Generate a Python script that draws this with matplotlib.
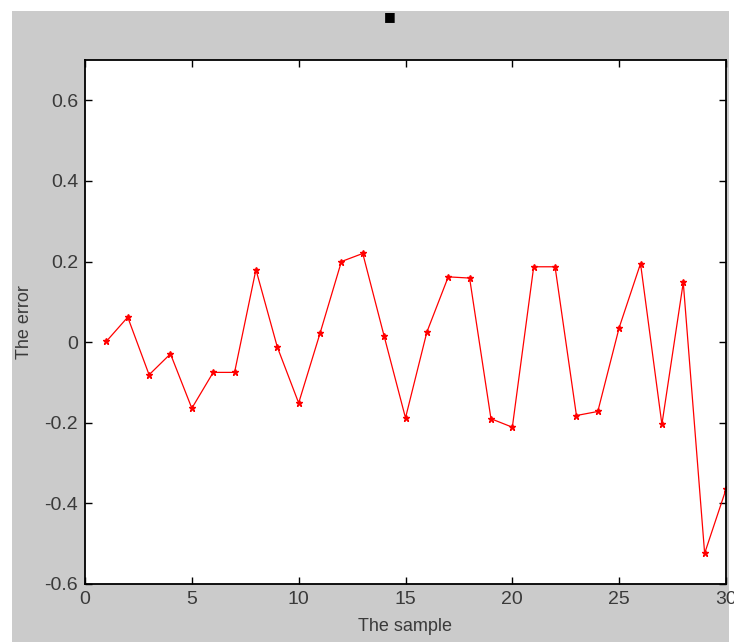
import matplotlib.pyplot as plt
from matplotlib.patches import Rectangle

# sample index and the error
samples = list(range(1, 31))
errors = [0.002, 0.062, -0.081, -0.029, -0.164, -0.075, -0.075, 0.18, -0.012, -0.151,
          0.022, 0.2, 0.22, 0.015, -0.188, 0.025, 0.162, 0.159, -0.19, -0.211,
          0.187, 0.187, -0.182, -0.172, 0.036, 0.195, -0.204, 0.148, -0.524, -0.365]

x_ticks = [0, 5, 10, 15, 20, 25, 30]
y_ticks = [-0.6, -0.4, -0.2, 0, 0.2, 0.4, 0.6]
y_tick_labels = ['-0.6', '-0.4', '-0.2', '0', '0.2', '0.4', '0.6']

plt.rcParams['font.family'] = ['Liberation Sans', 'DejaVu Sans']

W, H = 734, 642
fig = plt.figure(figsize=(W / 100, H / 100), dpi=100, facecolor='white')

# grey matlab-like window background, kept behind the axes
fig.patches.append(Rectangle((12 / W, 0), (729 - 12) / W, (H - 11) / H,
                             transform=fig.transFigure, facecolor='#cbcbcb',
                             edgecolor='none', zorder=-10))

ax = fig.add_axes([85 / W, 1 - 584 / H, (726 - 85) / W, (584 - 60) / H])
ax.set_facecolor('white')

ax.plot(samples, errors, color='red', linewidth=0.9, marker='*', markersize=5)

ax.set_xlim(0, 30)
ax.set_ylim(-0.6, 0.7)
ax.set_xticks(x_ticks)
ax.set_yticks(y_ticks)
ax.set_yticklabels(y_tick_labels)

ax.tick_params(direction='in', top=True, right=True, length=5, width=1,
               labelsize=14, labelcolor='#3a3a3a', pad=5)
for side in ax.spines.values():
    side.set_linewidth(1.3)
    side.set_color('black')

ax.set_xlabel('The sample', fontsize=13, color='#3a3a3a', labelpad=7)
ax.set_ylabel('The error', fontsize=13, color='#3a3a3a', labelpad=8)

# small black title glyph above the axes
fig.text(390 / W, 1 - 17 / H, '\u25a0', fontsize=9, ha='center', va='center',
         color='black', family='DejaVu Sans')

fig.savefig('out.png', dpi=100, facecolor=fig.get_facecolor())
